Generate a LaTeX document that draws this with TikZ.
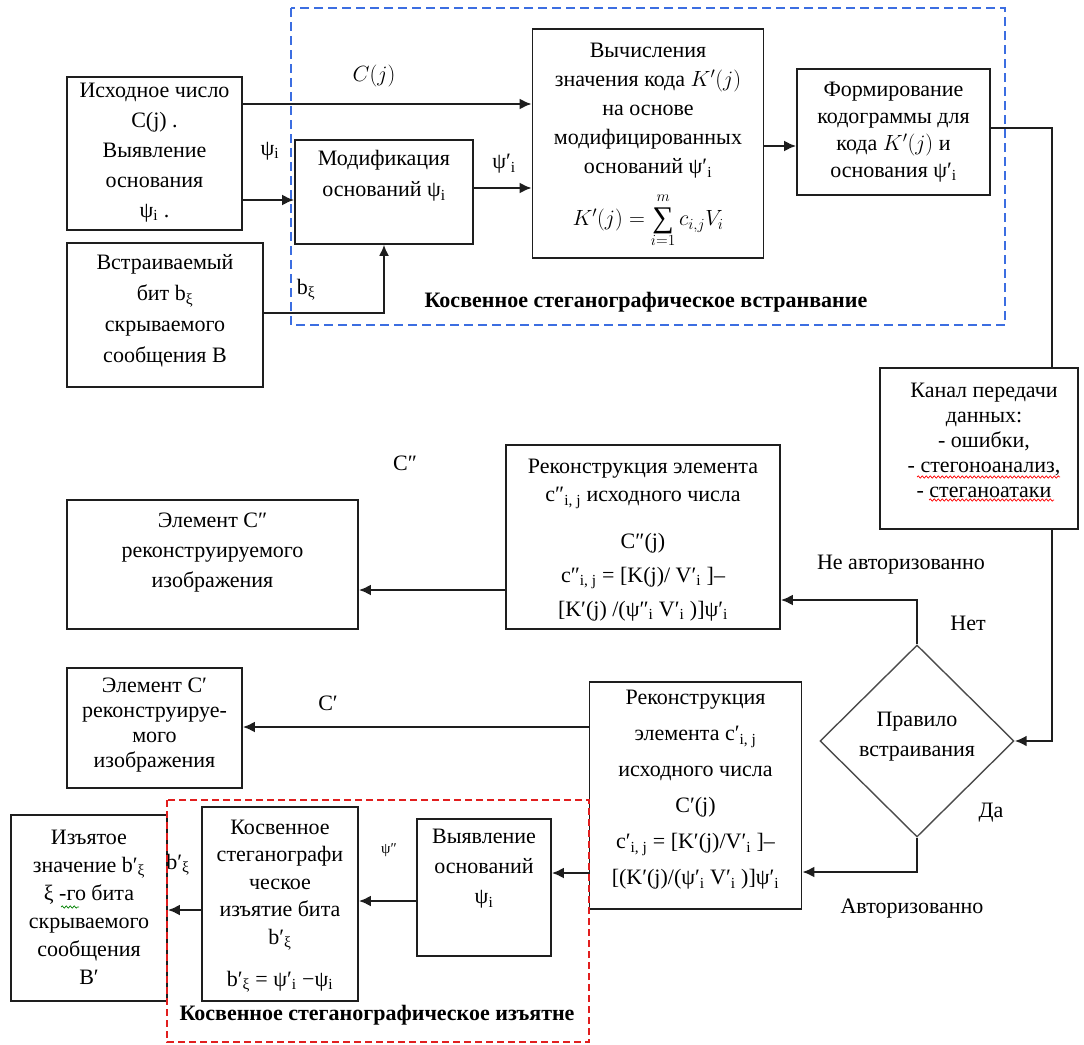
\RequirePackage{fix-cm}
\documentclass[tikz,border=0pt]{standalone}
\usepackage{fontspec}
\setmainfont{Liberation Serif}
\usetikzlibrary{arrows.meta,shapes.geometric,decorations.pathmorphing}
\newcommand{\fs}[1]{\fontsize{22}{#1}\selectfont}
\newcommand{\SubSup}[3]{#1#2\textsubscript{#3}}
\newcommand{\psii}{ψ\textsubscript{i}}
\newcommand{\bigsum}{\mathop{\vcenter{\hbox{\fontsize{30}{30}\selectfont ∑}}}\limits}
\definecolor{dashblue}{RGB}{60,110,225}
\definecolor{dashred}{RGB}{225,30,30}
\definecolor{boxline}{RGB}{30,30,30}
\tikzset{
  bx/.style={draw=boxline, line width=1.6pt, inner sep=0pt},
  tx/.style={align=center, inner sep=0pt},
  lbl/.style={inner sep=0pt, font=\fs{26}},
  arr/.style={draw=boxline, line width=2.8pt, -{Latex[length=12pt,width=11pt]}},
  thinarr/.style={draw=boxline, line width=1.8pt, -{Latex[length=11pt,width=10pt]}},
  ln/.style={draw=boxline, line width=2pt},
  squig/.style={line width=0.7pt, decorate, decoration={snake, amplitude=1.1pt, segment length=4pt}},
}
\begin{document}
\begin{tikzpicture}[x=1pt,y=-1pt]
\useasboundingbox (0,0) rectangle (1084,1044);

% ---------- boxes ----------
\node[bx, minimum width=175pt, minimum height=153pt] (A) at (154.5,153.5) {};
\node[tx, font=\fs{30}] (At) at (154.5,152.5) {Исходное число\\C(j) .\\Выявление\\основания\\\psii\ .};

\node[bx, minimum width=196pt, minimum height=144pt] (B) at (165,315) {};
\node[tx, font=\fs{31}] (Bt) at (165,311) {Встраиваемый\\бит b\textsubscript{ξ}\\скрываемого\\сообщения B};

\node[bx, minimum width=178pt, minimum height=104pt] (M) at (384,192) {};
\node[tx, font=\fs{31}] (Mt) at (384,176) {Модификация\\оснований \psii};

\node[bx, minimum width=231pt, minimum height=229pt] (K) at (648,143.5) {};
\node[tx, font=\fs{29}] (Kt) at (648,111) {Вычисления\\значения кода $K'(j)$\\на основе\\модифицированных\\оснований \SubSup{ψ}{′}{i}};
\node[tx, font=\fs{29}] (Kf) at (648,220) {$K'(j)=\bigsum^{\raisebox{4pt}{$\scriptstyle m$}}_{\raisebox{-3pt}{$\scriptstyle i=1$}}c_{i,j}V_i$};

\node[bx, minimum width=193pt, minimum height=126pt] (F) at (893.5,132) {};
\node[tx, font=\fs{27}] (Ft) at (893.5,132) {Формирование\\кодограммы для\\кода $K'(j)$ и\\основания \SubSup{ψ}{′}{i}};

\node[bx, minimum width=198pt, minimum height=161pt] (Kan) at (979,448.5) {};
\node[tx, font=\fs{25}] (Kant) at (984,440) {Канал передачи\\данных:\\- ошибки,\\- стегоноанализ,\\- стеганоатаки};

\node[bx, minimum width=274pt, minimum height=184pt] (R2) at (643,537) {};
\node[tx, font=\fs{28}] (R2t) at (643,484) {Реконструкция элемента\\\SubSup{c}{″}{i, j} исходного числа};
\node[tx, font=\fs{34}] (R2f) at (643,577) {C″(j)\\\SubSup{c}{″}{i, j} = [K(j)/ \SubSup{V}{′}{i} ]–\\{}[K′(j) /(\SubSup{ψ}{″}{i} \SubSup{V}{′}{i} )]\SubSup{ψ}{′}{i}};

\node[bx, minimum width=291pt, minimum height=129pt] (E2) at (212.5,564.5) {};
\node[tx, font=\fs{30}] (E2t) at (212.5,553) {Элемент C″\\реконструируемого\\изображения};

\node[draw=boxline!80, line width=1.4pt, shape=diamond, minimum width=194pt, minimum height=192pt, inner sep=0pt] (D) at (917,741) {};
\node[tx, font=\fs{30}] (Dt) at (917,737) {Правило\\встраивания};

\node[bx, minimum width=212pt, minimum height=227pt] (R1) at (695.5,795.5) {};
\node[tx, font=\fs{36}] (R1t) at (695.5,790) {Реконструкция\\элемента \SubSup{c}{′}{i, j}\\исходного числа\\C′(j)\\\SubSup{c}{′}{i, j} = [K′(j)/\SubSup{V}{′}{i} ]–\\{}[(K′(j)/(\SubSup{ψ}{′}{i} \SubSup{V}{′}{i} )]\SubSup{ψ}{′}{i}};

\node[bx, minimum width=175pt, minimum height=120pt] (E1) at (154.5,728) {};
\node[tx, font=\fs{25}] (E1t) at (154.5,725) {Элемент C′\\реконструируе-\\мого\\изображения};

\node[bx, minimum width=156pt, minimum height=186pt] (Iz) at (89,908) {};
\node[tx, font=\fs{28}] (Izt) at (89,907.5) {Изъятое\\значение \SubSup{b}{′}{ξ}\\ξ -го бита\\скрываемого\\сообщения\\B′};

\node[bx, minimum width=156pt, minimum height=194pt] (Kos) at (280,904) {};
\node[tx, font=\fs{27.5}] (Kost) at (280,885) {Косвенное\\стеганографи\\ческое\\изъятие бита\\\SubSup{b}{′}{ξ}};
\node[tx, font=\fs{28}] (Kosf) at (280,982) {\SubSup{b}{′}{ξ} = \SubSup{ψ}{′}{i} −\psii};

\node[bx, minimum width=134pt, minimum height=137pt] (V) at (484,887.5) {};
\node[tx, font=\fs{30}] (Vt) at (484,869) {Выявление\\оснований\\\psii};

% ---------- coordinates ----------
\coordinate (cC) at (0,104);
\coordinate (cPsi) at (0,200);
\coordinate (cPsiP) at (0,188);
\coordinate (cKF) at (0,146);
\coordinate (cB) at (384,313);
\coordinate (cF) at (1052,128);
\coordinate (cNo) at (917,600);
\coordinate (cYes) at (917,872);
\coordinate (c2) at (0,590);
\coordinate (c1) at (0,727);
\coordinate (cV) at (0,873);
\coordinate (cVK) at (0,901);
\coordinate (cKI) at (0,910);

% ---------- connectors ----------
\draw[arr] (A.east|-cC) -- (K.west|-cC);
\draw[arr] (A.east|-cPsi) -- (M.west|-cPsi);
\draw[arr] (M.east|-cPsiP) -- (K.west|-cPsiP);
\draw[arr] (K.east|-cKF) -- (F.west|-cKF);
\draw[thinarr] (B.east|-cB) -- (cB) -- (M.south);
\draw[ln] (F.east|-cF) -- (cF) -- (Kan.north-|cF);
\draw[arr] (Kan.south-|cF) |- (D.east);
\draw[arr] (D.north) -- (cNo) -- (R2.east|-cNo);
\draw[arr] (D.south) -- (cYes) -- (R1.east|-cYes);
\draw[arr] (R2.west|-c2) -- (E2.east|-c2);
\draw[arr] (R1.west|-c1) -- (E1.east|-c1);
\draw[arr] (R1.west|-cV) -- (V.east|-cV);
\draw[arr] (V.west|-cVK) -- (Kos.east|-cVK);
\draw[arr] (Kos.west|-cKI) -- (Iz.east|-cKI);

% ---------- labels ----------
\node[lbl] (lC) at (374,76) {$C(j)$};
\node[lbl] (lpsi) at (270,151) {\psii};
\node[lbl] (lpsip) at (504,164) {\SubSup{ψ}{′}{i}};
\node[lbl] (lb) at (306,290) {b\textsubscript{ξ}};
\node[lbl] (lC2) at (405,463) {C″};
\node[lbl] (lC1) at (328,703) {C′};
\node[lbl] (lNA) at (901,565) {Не авторизованно};
\node[lbl] (lNo) at (968,623) {Нет};
\node[lbl] (lYes) at (991,813) {Да};
\node[lbl] (lAu) at (912,909) {Авторизованно};
\node[lbl, font=\fontsize{15}{15}\selectfont] (lpp) at (389,850) {ψ″};
\node[lbl] (lb2) at (178,865) {\SubSup{b}{′}{ξ}};

\node[lbl, font=\bfseries\fs{26}] (T1) at (646,302) {Косвенное стеганографическое встранвание};
\node[lbl, font=\bfseries\fs{26}] (T2) at (377,1015) {Косвенное стеганографическое изъятне};

% ---------- spell-check squiggles ----------
\draw[squig, red] (917,477) -- (1060,477);
\draw[squig, red] (929,500) -- (1054,500);
\draw[squig, green!50!black] (61,907) -- (79,907);

% ---------- dashed frames ----------
\draw[dashblue, line width=1.5pt, dash pattern=on 9pt off 5pt] (291,8) rectangle (1005,325);
\draw[dashred, line width=1.6pt, dash pattern=on 7pt off 4pt] (167,800) rectangle (589,1042);
\end{tikzpicture}
\end{document}
